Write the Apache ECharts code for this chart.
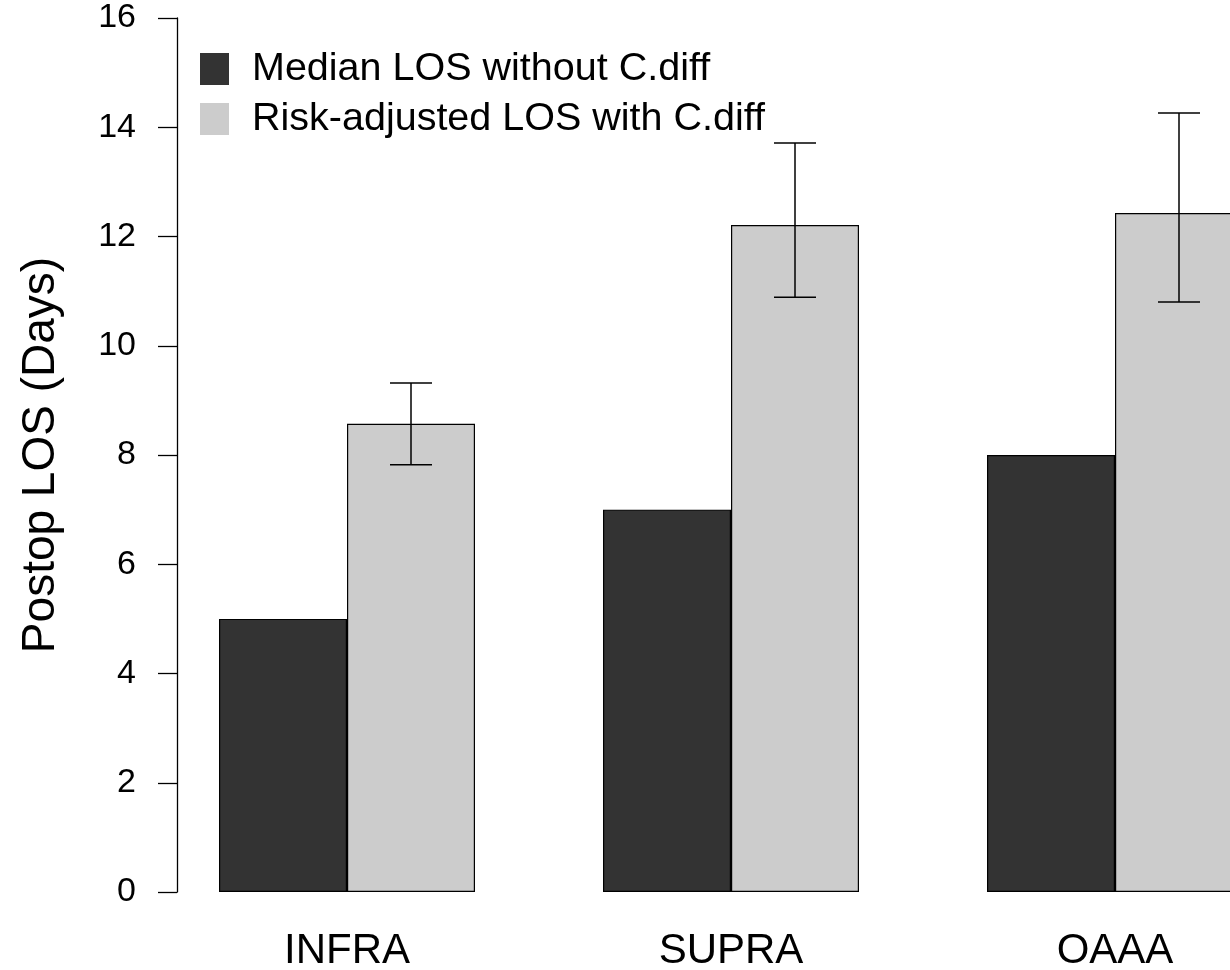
<!DOCTYPE html>
<html>
<head>
<meta charset="utf-8">
<script src="https://cdn.jsdelivr.net/npm/echarts@6/dist/echarts.min.js"></script>
<style>
  html,body{margin:0;padding:0;overflow:hidden;background:#fff;}
  #chart{width:1320px;height:970px;}
</style>
</head>
<body>
<div id="chart"></div>
<script>
const categories = ['INFRA', 'SUPRA', 'OAAA'];
const medianLOS = [5, 7, 8];
const adjustedLOS = [8.57, 12.21, 12.43];
const ciLow = [7.82, 10.89, 10.80];
const ciHigh = [9.32, 13.71, 14.26];
const yTicks = { min: 0, max: 16, step: 2 };

const font = 'Liberation Sans, Arial, sans-serif';
const chart = echarts.init(document.getElementById('chart'));

// error bars sit on the second (light) bar of each group
const errData = categories.map((c, i) => [i, ciLow[i], ciHigh[i]]);

function renderErr(params, api) {
  const idx = api.value(0);
  const band = api.size([1, 0])[0];
  const cx = api.coord([idx, 0])[0] + band / 6;
  const lo = api.coord([idx, api.value(1)])[1];
  const hi = api.coord([idx, api.value(2)])[1];
  const hw = 21;
  const style = { stroke: '#000', lineWidth: 1.5 };
  return {
    type: 'group',
    children: [
      { type: 'line', shape: { x1: cx, y1: hi, x2: cx, y2: lo }, style },
      { type: 'line', shape: { x1: cx - hw, y1: hi, x2: cx + hw, y2: hi }, style },
      { type: 'line', shape: { x1: cx - hw, y1: lo, x2: cx + hw, y2: lo }, style }
    ]
  };
}

chart.setOption({
  backgroundColor: '#fff',
  animation: false,
  textStyle: { fontFamily: font, color: '#000' },
  grid: { left: 155, right: 13, top: 18, bottom: 78, outerBoundsMode: 'none', containLabel: false },
  legend: {
    orient: 'vertical', left: 200, top: 49, padding: 0,
    itemWidth: 29, itemHeight: 32, itemGap: 10,
    icon: 'rect',
    itemStyle: { borderWidth: 0 },
    textStyle: { fontSize: 39.5, color: '#000', fontFamily: font, padding: [0, 0, 0, 18] },
    data: ['Median LOS without C.diff', 'Risk-adjusted LOS with C.diff']
  },
  xAxis: {
    type: 'category', data: categories,
    axisLine: { show: false }, axisTick: { show: false },
    axisLabel: { fontSize: 42, color: '#000', margin: 38, fontFamily: font }
  },
  yAxis: {
    type: 'value', min: yTicks.min, max: yTicks.max, interval: yTicks.step,
    offset: -22,
    name: 'Postop LOS (Days)', nameLocation: 'middle', nameGap: 113, nameRotate: 90,
    nameTextStyle: { fontSize: 46, color: '#000', fontFamily: font },
    axisLine: { show: true, lineStyle: { color: '#000', width: 1.3 } },
    axisTick: { show: true, length: 19, lineStyle: { color: '#000', width: 1.3 } },
    axisLabel: { fontSize: 34, color: '#000', margin: 41, fontFamily: font, padding: [6, 0, 0, 0] },
    splitLine: { show: false }
  },
  series: [
    {
      name: 'Median LOS without C.diff', type: 'bar', data: medianLOS,
      barGap: '0%', barCategoryGap: '33.333%',
      itemStyle: { color: '#333333', borderColor: '#000', borderWidth: 1.2 }
    },
    {
      name: 'Risk-adjusted LOS with C.diff', type: 'bar', data: adjustedLOS,
      barGap: '0%', barCategoryGap: '33.333%',
      itemStyle: { color: '#cccccc', borderColor: '#000', borderWidth: 1.2 }
    },
    {
      type: 'custom', data: errData, renderItem: renderErr, z: 10,
      encode: { x: 0, y: [1, 2] }
    }
  ]
});
</script>
</body>
</html>
